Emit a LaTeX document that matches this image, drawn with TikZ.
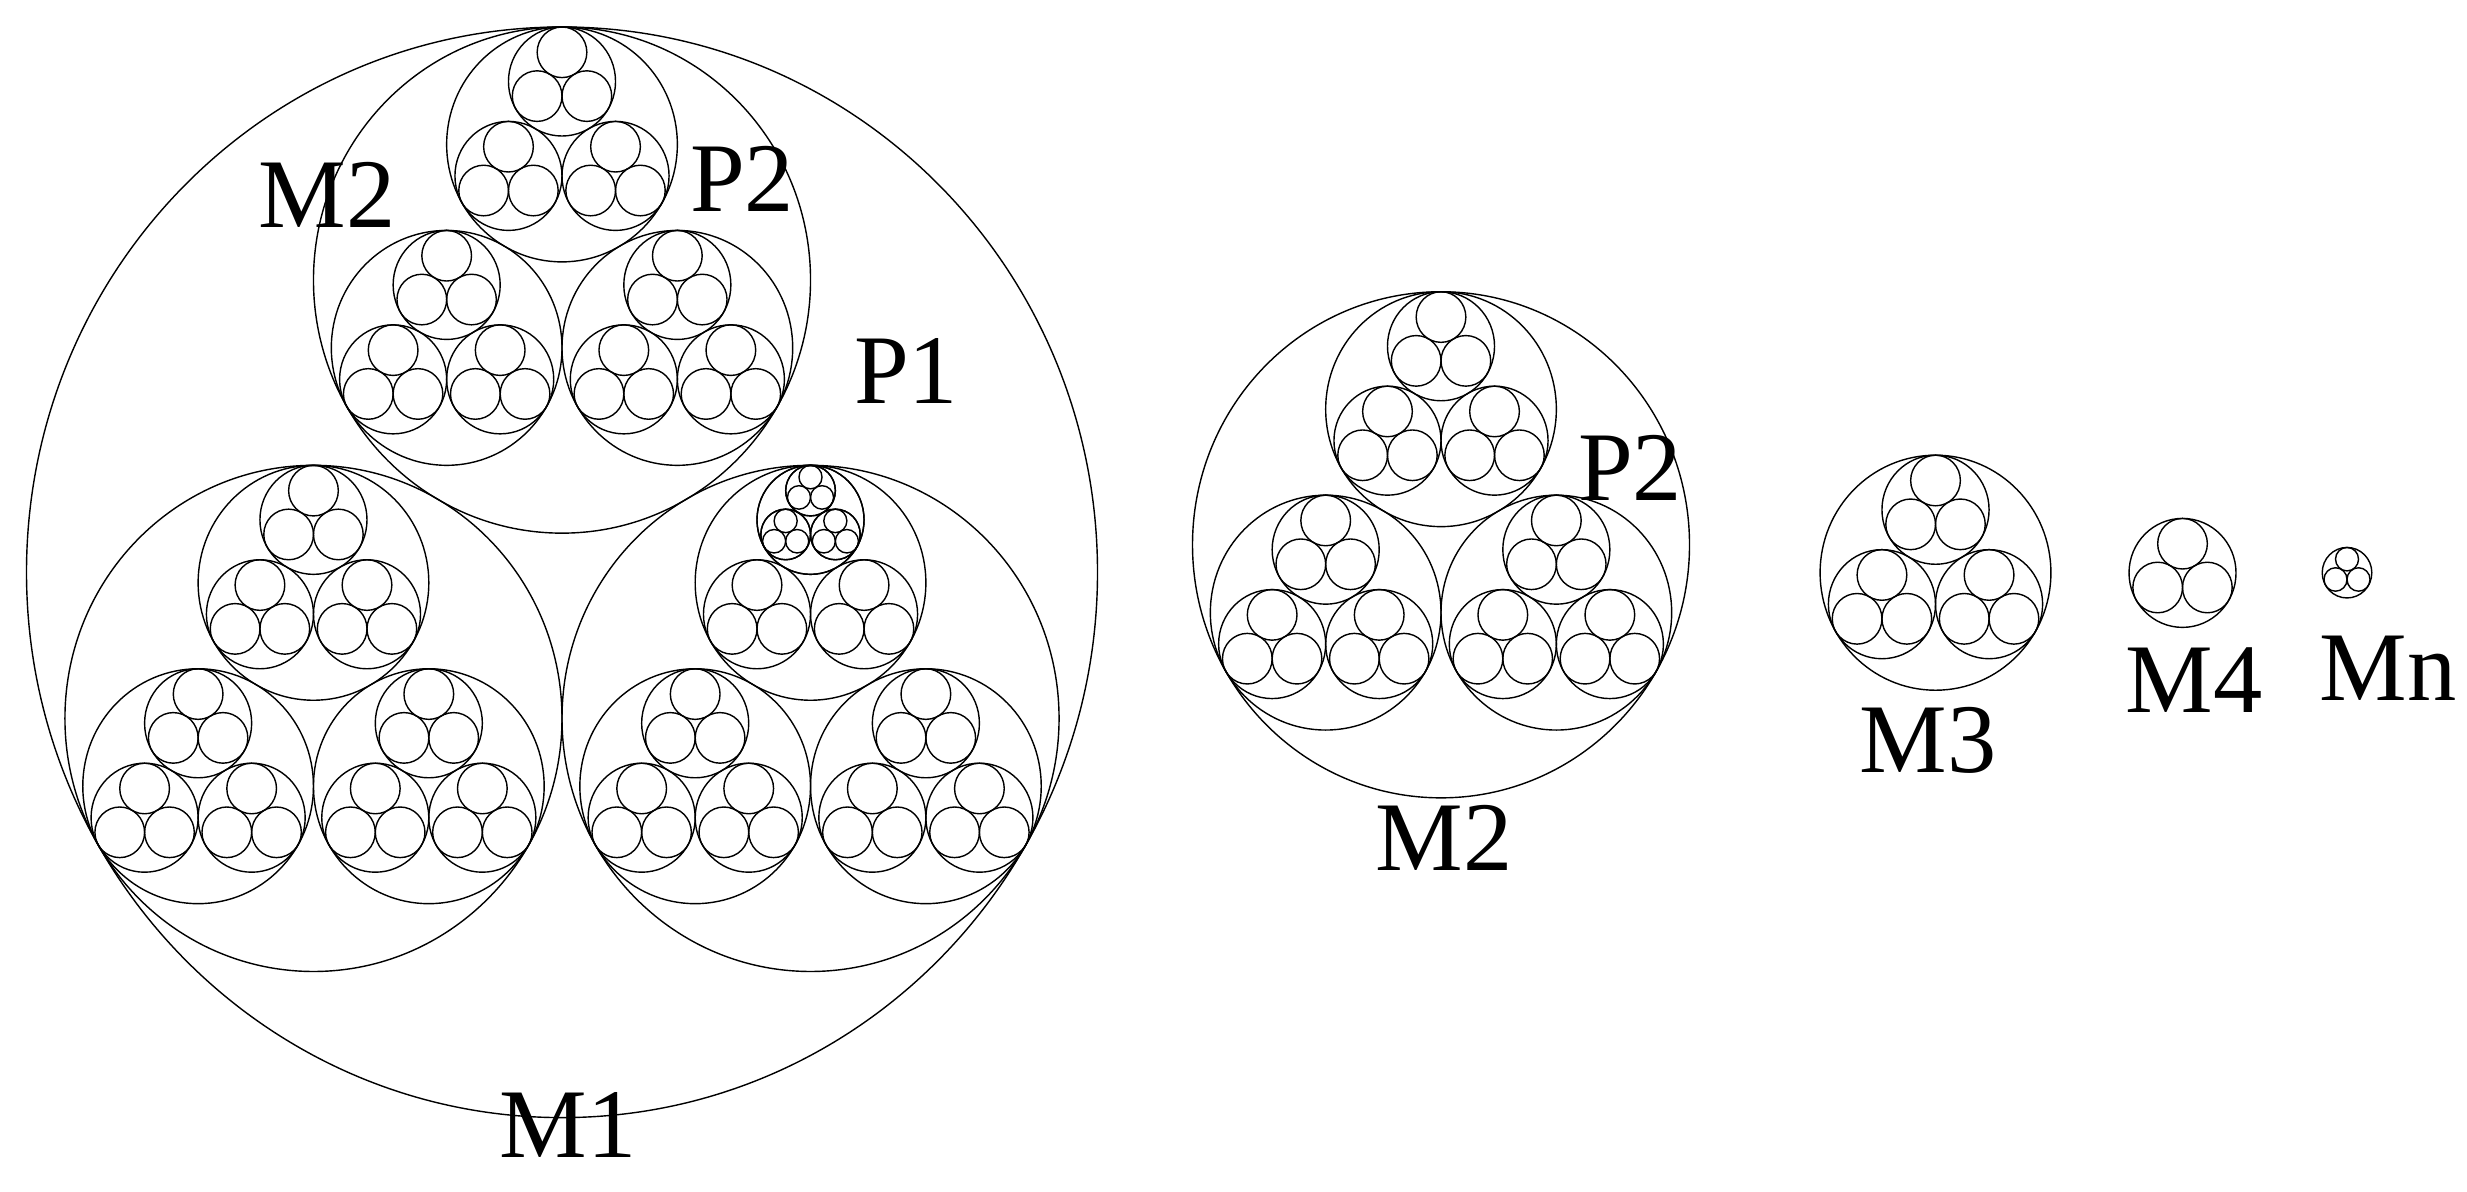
\documentclass[tikz,border=0pt]{standalone}
\usepackage{fontspec}
\setmainfont{Liberation Serif}
\usepackage{tikz}

% one strand: its circle and three strands inside it, #4 levels deeper
\newcommand\strand[4]{%
  \draw [black] (#1,#2) circle (#3);
  \ifnum#4>0
    \begingroup
    \pgfmathsetmacro\cx{#1}%
    \pgfmathsetmacro\cy{#2}%
    \pgfmathsetmacro\cr{#3}%
    \pgfmathtruncatemacro\cn{#4-1}%
    \pgfmathsetmacro\sr{\cr*0.4641016}%
    \pgfmathsetmacro\sd{\cr-\sr}%
    \pgfmathsetmacro\sh{\sd*0.8660254}%
    \pgfmathsetmacro\sxl{\cx-\sh}%
    \pgfmathsetmacro\sxr{\cx+\sh}%
    \pgfmathsetmacro\syt{\cy-\sd}%
    \pgfmathsetmacro\syb{\cy+0.5*\sd}%
    \strand{\cx}{\syt}{\sr}{\cn}%
    \strand{\sxl}{\syb}{\sr}{\cn}%
    \strand{\sxr}{\syb}{\sr}{\cn}%
    \endgroup
  \fi}

\begin{document}
\begin{tikzpicture}[x=0.01cm,y=-0.01018cm]
\tikzstyle{every node}+=[inner sep=0pt]
\tikzstyle{lbl}=[anchor=base,font=\fontsize{28}{30}\selectfont]
\useasboundingbox (0,0) rectangle (2467,1169.9);
% M1 with its extra level in one corner
\strand{562}{562}{535.5}{4}
\strand{810.5}{510.5}{53.53}{2}
% smaller ones
\strand{1441}{535}{248.5}{3}
\strand{1935.5}{562.4}{115.4}{2}
\strand{2182.5}{562.6}{53.5}{1}
\strand{2347}{562.4}{24.8}{1}
\node [lbl] (m2a) at (327,223) {M2};
\node [lbl] (p2a) at (742,208) {P2};
\node [lbl] (p1) at (906,395.9) {P1};
\node [lbl] (m1) at (568,1136.5) {M1};
\node [lbl] (p2b) at (1630,491.2) {P2};
\node [lbl] (m2b) at (1444,854.6) {M2};
\node [lbl] (m3) at (1928,758.3) {M3};
\node [lbl] (m4) at (2194,699.4) {M4};
\node [lbl] (mn) at (2388,687.6) {Mn};
\end{tikzpicture}
\end{document}
